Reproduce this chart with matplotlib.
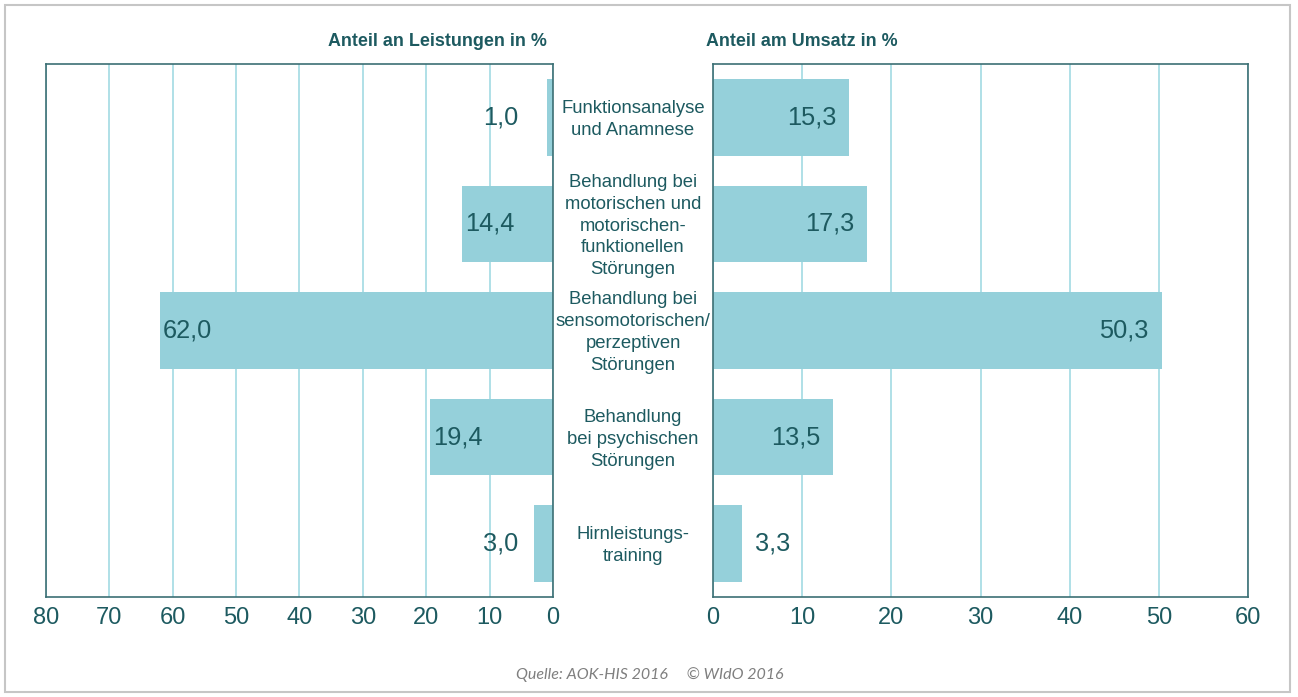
import matplotlib
matplotlib.use("Agg")
import matplotlib.pyplot as plt
import matplotlib.transforms as mtransforms
from matplotlib.patches import Rectangle

plt.rcParams['font.family'] = ['Liberation Sans', 'DejaVu Sans']

# ---- data ----
categories = [
    "Funktionsanalyse\nund Anamnese",
    "Behandlung bei\nmotorischen und\nmotorischen-\nfunktionellen\nStörungen",
    "Behandlung bei\nsensomotorischen/\nperzeptiven\nStörungen",
    "Behandlung\nbei psychischen\nStörungen",
    "Hirnleistungs-\ntraining",
]
leistungen = [1.0, 14.4, 62.0, 19.4, 3.0]
umsatz = [15.3, 17.3, 50.3, 13.5, 3.3]
left_ticks = [0, 10, 20, 30, 40, 50, 60, 70, 80]
right_ticks = [0, 10, 20, 30, 40, 50, 60]
title_left = "Anteil an Leistungen in %"
title_right = "Anteil am Umsatz in %"
source = "Quelle: AOK-HIS 2016     \u00a9 WIdO 2016"

# ---- style ----
TEXT = "#1d5a60"
BAR = "#95d0da"
GRID = "#a9dde5"
SPINE = "#3c6f74"

W, H = 1298, 697
fig = plt.figure(figsize=(W / 100, H / 100), dpi=100)

def fx(px):
    return px / W

def fy(py):
    return 1 - py / H

# outer border
fig.patches.append(Rectangle((fx(5), fy(692)), fx(1290) - fx(5), fy(5) - fy(692),
                             transform=fig.transFigure, fill=False,
                             edgecolor="#c6c6c6", linewidth=1.5))

top, bottom = 64, 597
axL = fig.add_axes([fx(45.7), fy(bottom), fx(553) - fx(45.7), fy(top) - fy(bottom)])
axR = fig.add_axes([fx(713), fy(bottom), fx(1248) - fx(713), fy(top) - fy(bottom)])

ypos = list(range(len(categories)))
bar_h = 0.72

def style(ax, ticks, xlim):
    ax.set_xlim(*xlim)
    ax.set_ylim(len(categories) - 0.5, -0.5)
    ax.set_xticks(ticks)
    ax.set_xticklabels([str(t) for t in ticks])
    ax.set_yticks([])
    ax.tick_params(axis='x', length=0, pad=7, labelsize=17, labelcolor=TEXT)
    ax.grid(axis='x', color=GRID, linewidth=1.3)
    ax.set_axisbelow(True)
    for s in ax.spines.values():
        s.set_color(SPINE)
        s.set_linewidth(1.2)

axL.barh(ypos, leistungen, height=bar_h, color=BAR, zorder=2)
style(axL, left_ticks, (80, 0))
axR.barh(ypos, umsatz, height=bar_h, color=BAR, zorder=2)
style(axR, right_ticks, (0, 60))

VFS = 18.3
for y, v in zip(ypos, leistungen):
    lab = f"{v:.1f}".replace('.', ',')
    if v < 10:
        axL.text(5.5, y, lab, ha='right', va='center', fontsize=VFS, color=TEXT, zorder=3)
    else:
        axL.text(v - 0.5, y, lab, ha='left', va='center', fontsize=VFS, color=TEXT, zorder=3)

for y, v in zip(ypos, umsatz):
    lab = f"{v:.1f}".replace('.', ',')
    if v < 10:
        axR.text(v + 1.4, y, lab, ha='left', va='center', fontsize=VFS, color=TEXT, zorder=3)
    else:
        axR.text(v - 1.5, y, lab, ha='right', va='center', fontsize=VFS, color=TEXT, zorder=3)

# category labels between the panels
trans = mtransforms.blended_transform_factory(fig.transFigure, axL.transData)
for y, c in zip(ypos, categories):
    fig.text(fx(633), y + 0.02, c, transform=trans, ha='center', va='center',
             fontsize=13.3, color=TEXT, linespacing=1.38)

# panel titles
fig.text(fx(547), fy(42), title_left, ha='right', va='center',
         fontsize=12.9, fontweight='bold', color=TEXT)
fig.text(fx(706), fy(42), title_right, ha='left', va='center',
         fontsize=12.9, fontweight='bold', color=TEXT)

# source
fig.text(fx(650), fy(675), source, ha='center', va='center',
         fontsize=11.5, style='italic', color="#7f7f7f", family=['Lato', 'DejaVu Sans'])

fig.savefig("out.png", dpi=100)
